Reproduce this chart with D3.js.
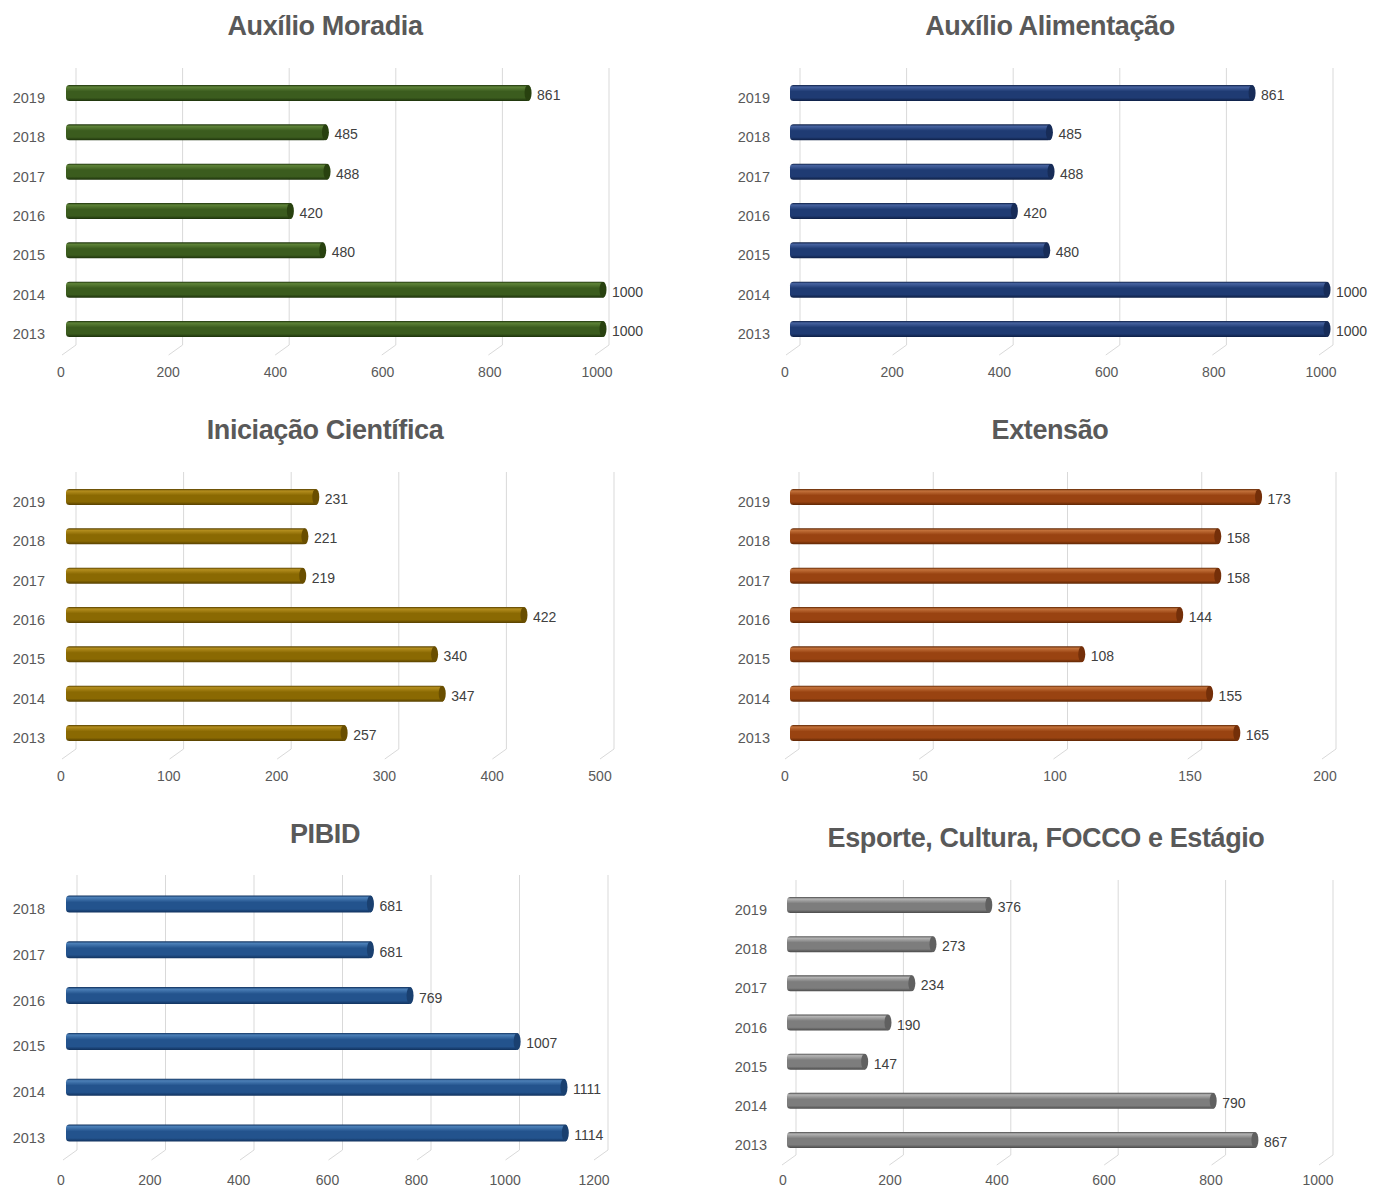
<!DOCTYPE html>
<html><head><meta charset="utf-8">
<script src="https://cdn.jsdelivr.net/npm/d3@7"></script>
<style>html,body{margin:0;padding:0;background:#fff;}</style>
</head><body>
<svg id="chart" width="1375" height="1189"></svg>
<script>
// ---- data ----
const titles = ["Auxílio Moradia", "Auxílio Alimentação", "Iniciação Científica", "Extensão", "PIBID", "Esporte, Cultura, FOCCO e Estágio"];
const years = ["2013", "2014", "2015", "2016", "2017", "2018", "2019"];
const pibidYears = ["2013", "2014", "2015", "2016", "2017", "2018"];
const moradiaValues = [1000, 1000, 480, 420, 488, 485, 861];
const alimentacaoValues = [1000, 1000, 480, 420, 488, 485, 861];
const iniciacaoValues = [257, 347, 340, 422, 219, 221, 231];
const extensaoValues = [165, 155, 108, 144, 158, 158, 173];
const pibidValues = [1114, 1111, 1007, 769, 681, 681];
const esporteValues = [867, 790, 147, 190, 234, 273, 376];
const ticks1000 = [0, 200, 400, 600, 800, 1000];
const ticks500 = [0, 100, 200, 300, 400, 500];
const ticks200 = [0, 50, 100, 150, 200];
const ticks1200 = [0, 200, 400, 600, 800, 1000, 1200];

// ---- layout / style ----
const palettes = {
  green:  {top:"#5e8338", mid:"#3b5c1e", bot:"#1d320b", cap:"#28410f"},
  navy:   {top:"#4763a0", mid:"#1f3b73", bot:"#0e1f45", cap:"#172c58"},
  gold:   {top:"#b48e1e", mid:"#8a6902", bot:"#564000", cap:"#694e00"},
  orange: {top:"#c4723b", mid:"#994311", bot:"#5e2604", cap:"#742f09"},
  blue:   {top:"#4c80b8", mid:"#23538d", bot:"#11325e", cap:"#1a4070"},
  gray:   {top:"#b4b4b4", mid:"#7d7d7d", bot:"#4b4b4b", cap:"#606060"}
};

const panels = [
  {title:titles[0], cats:years, vals:moradiaValues, ticks:ticks1000, max:1000, pal:"green",
   tx:325, ty:35, yTop:93, yBot:329, gTop:68, gBot:345, labY:377, yLabX:45,
   front:[66,605], back:[76,609], lab:[61,597], bh:16},
  {title:titles[1], cats:years, vals:alimentacaoValues, ticks:ticks1000, max:1000, pal:"navy",
   tx:1050, ty:35, yTop:93, yBot:329, gTop:68, gBot:345, labY:377, yLabX:770,
   front:[790,1329], back:[800,1333], lab:[785,1321], bh:16},
  {title:titles[2], cats:years, vals:iniciacaoValues, ticks:ticks500, max:500, pal:"gold",
   tx:325, ty:439, yTop:497, yBot:733, gTop:472, gBot:749, labY:781, yLabX:45,
   front:[66,611], back:[76,614], lab:[61,600], bh:16},
  {title:titles[3], cats:years, vals:extensaoValues, ticks:ticks200, max:200, pal:"orange",
   tx:1050, ty:439, yTop:497, yBot:733, gTop:472, gBot:749, labY:781, yLabX:770,
   front:[790,1334], back:[799,1336], lab:[785,1325], bh:16},
  {title:titles[4], cats:pibidYears, vals:pibidValues, ticks:ticks1200, max:1200, pal:"blue",
   tx:325, ty:843, yTop:904, yBot:1133, gTop:875, gBot:1150, labY:1185, yLabX:45,
   front:[66,606], back:[77,608], lab:[61,594], bh:17},
  {title:titles[5], cats:years, vals:esporteValues, ticks:ticks1000, max:1000, pal:"gray",
   tx:1046, ty:847, yTop:905, yBot:1140, gTop:880, gBot:1155, labY:1185, yLabX:767,
   front:[787,1329], back:[796,1333], lab:[783,1318], bh:16}
];

const svg = d3.select("#chart");
const defs = svg.append("defs");
Object.entries(palettes).forEach(([k, p]) => {
  const g = defs.append("linearGradient").attr("id", "grad-" + k)
    .attr("x1", 0).attr("y1", 0).attr("x2", 0).attr("y2", 1);
  g.append("stop").attr("offset", "0%").attr("stop-color", p.bot);
  g.append("stop").attr("offset", "12%").attr("stop-color", p.top);
  g.append("stop").attr("offset", "40%").attr("stop-color", p.mid);
  g.append("stop").attr("offset", "80%").attr("stop-color", p.mid);
  g.append("stop").attr("offset", "100%").attr("stop-color", p.bot);
});

const FONT = "'Liberation Sans', Arial, sans-serif";

panels.forEach(P => {
  const g = svg.append("g");
  const xFront = d3.scaleLinear().domain([0, P.max]).range(P.front);
  const xBack = d3.scaleLinear().domain([0, P.max]).range(P.back);
  const xLab = d3.scaleLinear().domain([0, P.max]).range(P.lab);
  const y = d3.scalePoint().domain(P.cats.slice().reverse()).range([P.yTop, P.yBot]);

  // title
  g.append("text").attr("x", P.tx).attr("y", P.ty)
    .attr("text-anchor", "middle").attr("font-family", FONT)
    .attr("font-weight", "bold").attr("font-size", 27).attr("fill", "#595959")
    .attr("letter-spacing", "-0.4")
    .text(P.title);

  // gridlines (back wall + floor diagonal)
  const grid = g.append("g");
  grid.selectAll("line.v").data(P.ticks).join("line").attr("class", "v")
    .attr("x1", d => xBack(d)).attr("x2", d => xBack(d))
    .attr("y1", P.gTop).attr("y2", P.gBot)
    .attr("stroke", "#d9d9d9").attr("stroke-width", 1);
  grid.selectAll("line.f").data(P.ticks).join("line").attr("class", "f")
    .attr("x1", d => xBack(d)).attr("x2", d => xBack(d) - 14)
    .attr("y1", P.gBot).attr("y2", P.gBot + 10)
    .attr("stroke", "#d9d9d9").attr("stroke-width", 1);

  // tick labels
  g.selectAll("text.tick").data(P.ticks).join("text").attr("class", "tick")
    .attr("x", d => xLab(d)).attr("y", P.labY)
    .attr("text-anchor", "middle").attr("font-family", FONT)
    .attr("font-size", 14).attr("fill", "#595959")
    .text(d => d);

  // year labels
  g.selectAll("text.cat").data(P.cats).join("text").attr("class", "cat")
    .attr("x", P.yLabX).attr("y", d => y(d) + 10)
    .attr("text-anchor", "end").attr("font-family", FONT)
    .attr("font-size", 14.5).attr("fill", "#595959")
    .text(d => d);

  // bars
  const data = P.cats.map((c, i) => ({c, v: P.vals[i]}));
  const bars = g.selectAll("g.bar").data(data).join("g").attr("class", "bar");
  const pal = palettes[P.pal];
  bars.append("rect")
    .attr("x", xFront(0)).attr("y", d => y(d.c) - P.bh / 2)
    .attr("width", d => xFront(d.v) - xFront(0)).attr("height", P.bh)
    .attr("rx", 3.5).attr("ry", 3.5)
    .attr("fill", "url(#grad-" + P.pal + ")");
  bars.append("ellipse")
    .attr("cx", d => xFront(d.v) - 2).attr("cy", d => y(d.c))
    .attr("rx", 3.5).attr("ry", P.bh / 2)
    .attr("fill", pal.cap);
  bars.append("text")
    .attr("x", d => xFront(d.v) + 7).attr("y", d => y(d.c) + 7)
    .attr("font-family", FONT).attr("font-size", 14).attr("fill", "#404040")
    .text(d => d.v);
});
</script>
</body></html>
